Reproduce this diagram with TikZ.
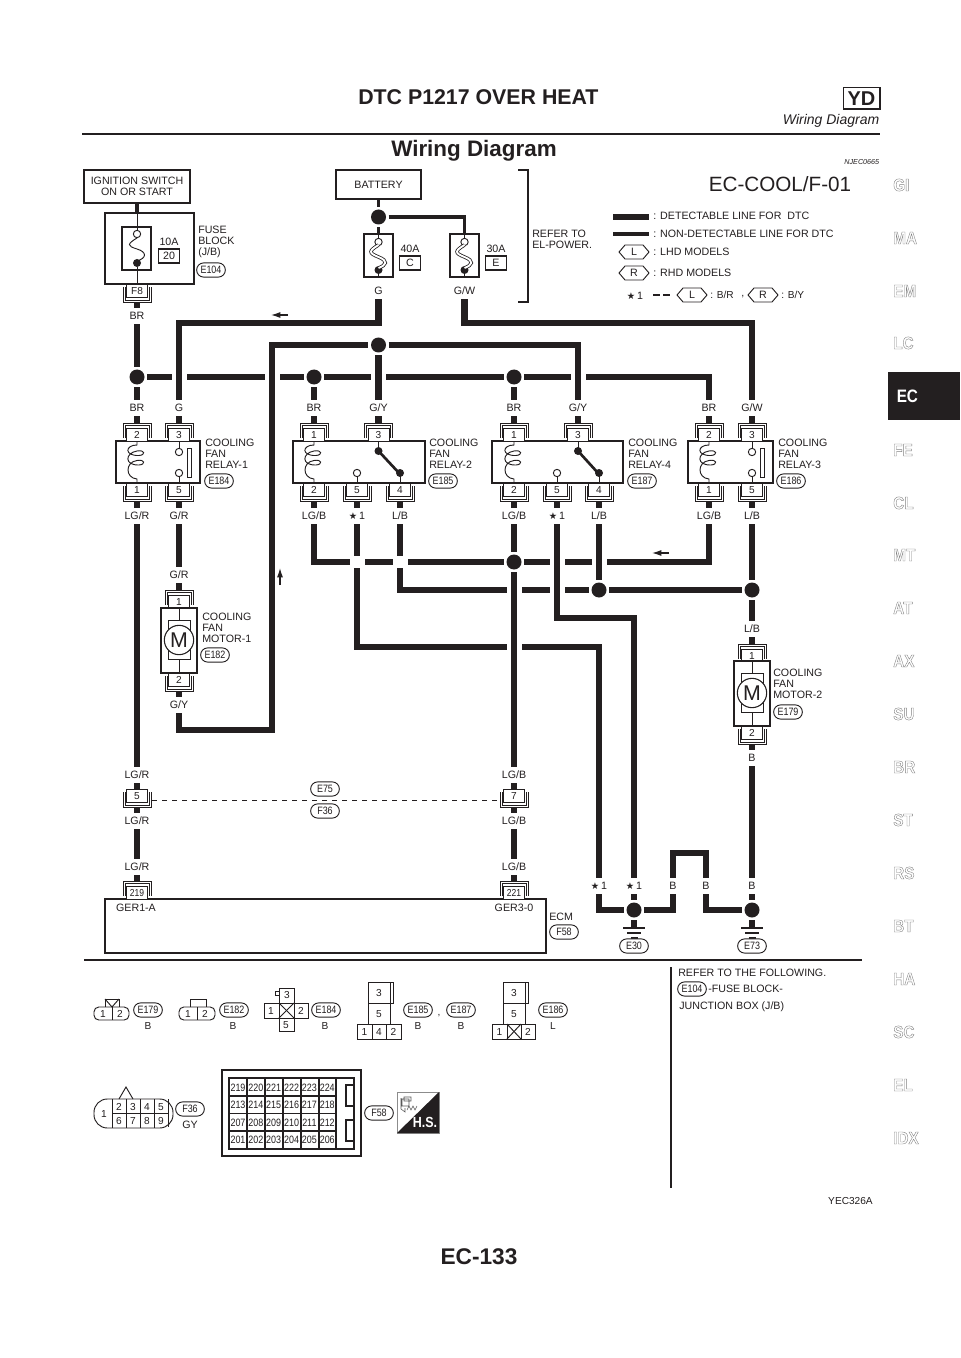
\documentclass[tikz,border=0pt]{standalone}
\usepackage{fontspec}
\setmainfont{Liberation Sans}
\newfontfamily\narrowf[FakeStretch=0.84]{Liberation Sans}
\newfontfamily\starf{DejaVu Sans}
\newfontfamily\tabf[FakeStretch=0.88,FakeBold=2.2]{Liberation Sans Bold}
\newfontfamily\boldnarrow[FakeStretch=0.85]{Liberation Sans Bold}
\usetikzlibrary{arrows.meta}
\def\px{0.75pt}
\definecolor{ink}{RGB}{35,31,32}
\newcommand{\stt}{{\starf\fontsize{7pt}{7pt}\selectfont ★}\,1}
\tikzset{
  wire/.style={line width=4.8pt,color=ink},
  midwire/.style={line width=2.7pt,color=ink},
  thn/.style={line width=0.7pt,color=ink},
  gapw/.style={line width=9pt,color=white},
  lab/.style={font=\fontsize{8pt}{8pt}\selectfont,text=ink,inner sep=0pt,text height=5.8pt,text depth=0pt,minimum height=12pt},
  txt/.style={font=\fontsize{8pt}{8.25pt}\selectfont,text=ink,inner sep=0pt,align=left,anchor=north west},
  jdot/.style={circle,fill=ink,inner sep=0pt,minimum size=11.25pt,outer sep=1.9pt},
  pinbox/.style={draw=ink,line width=0.7pt,fill=white,inner sep=0pt,minimum width=15.75pt,minimum height=9.75pt,font=\fontsize{7.6pt}{8pt}\selectfont,text=ink,text height=5.6pt,text depth=0pt},
  oval/.style={draw=ink,line width=0.7pt,rounded corners=5.2pt,inner sep=0pt,minimum width=21.5pt,minimum height=10.6pt,font=\narrowf\fontsize{8pt}{8pt}\selectfont,text=ink,text height=5.6pt,text depth=0pt,fill=white},
  sbox/.style={draw=ink,line width=0.8pt,inner sep=0pt,fill=white,text=ink},
  smallc/.style={circle,draw=ink,line width=0.7pt,fill=white,inner sep=0pt,minimum size=5.5pt},
  smalld/.style={circle,fill=ink,inner sep=0pt,minimum size=6pt},
  tabt/.style={font=\tabf\fontsize{13pt}{13pt}\selectfont,inner sep=0pt,anchor=west},
}
% connector on top of a box: #1 name #2 x #3 box edge y #4 text
\newcommand{\pinT}[4]{%
  \draw[thn] (#2-14,#3-3)--(#2-14,#3-18)--(#2+14,#3-18)--(#2+14,#3-3);
  \draw[thn] (#2-12,#3-3)--(#2-12,#3-16)--(#2+12,#3-16)--(#2+12,#3-3);
  \node[pinbox,outer ysep=3.75pt] (#1) at (#2,#3-6.5) {#4};}
\newcommand{\pinB}[4]{%
  \draw[thn] (#2-14,#3+3)--(#2-14,#3+18)--(#2+14,#3+18)--(#2+14,#3+3);
  \draw[thn] (#2-12,#3+3)--(#2-12,#3+16)--(#2+12,#3+16)--(#2+12,#3+3);
  \node[pinbox,outer ysep=3.75pt] (#1) at (#2,#3+6.5) {#4};}
\newcommand{\coil}[1]{%
  \draw[thn] (#1,441)--(#1,445) .. controls (#1-12,445) and (#1-13,456) .. (#1+2,455.5) .. controls (#1+9,455) and (#1+8,449.5) .. (#1,451) .. controls (#1-12,453) and (#1-13,465.5) .. (#1+2,465) .. controls (#1+9,464.5) and (#1+8,459) .. (#1,460.5) .. controls (#1-12,462) and (#1-12,478) .. (#1,479)--(#1,483);}
\newcommand{\contactNO}[1]{%
  \draw[thn] (#1,441)--(#1,448);\draw[thn] (#1,477)--(#1,483);
  \node[smallc] at (#1,452) {};\node[smallc] at (#1,473) {};
  \draw[thn,fill=white] (#1+8,448) rectangle (#1+12,477);}
\newcommand{\switchC}[3]{% #1 common x #2 NO x #3 contact x
  \draw[thn] (#1,441)--(#1,451);
  \draw[line width=2pt,color=ink] (#1,451)--(#3-1,473);
  \node[smalld] at (#1,451) {};\node[smalld] at (#3,473) {};
  \draw[thn] (#3,473)--(#3,483);
  \node[smallc] at (#2,473) {};\draw[thn] (#2,476.5)--(#2,483);}
\newcommand{\hexa}[4]{% name x y text
  \draw[thn] (#2-15,#3)--(#2-9,#3-7)--(#2+9,#3-7)--(#2+15,#3)--(#2+9,#3+7)--(#2-9,#3+7)--cycle;
  \node[inner sep=0pt,text=ink,font=\fontsize{8pt}{8pt}\selectfont] (#1) at (#2,#3) {#4};}
\newcommand{\motor}[3]{% x, top, name
  \draw[sbox] (#1-18,#2) rectangle (#1+18,#2+65);
  \draw[thn] (#1,#2)--(#1,#2+12);\draw[thn] (#1,#2+51)--(#1,#2+65);
  \draw[thn,fill=white] (#1-11,#2+12) rectangle (#1+11,#2+51);
  \node[circle,draw=ink,line width=0.8pt,fill=white,minimum size=22pt,inner sep=0pt,text=ink,font=\fontsize{16pt}{16pt}\selectfont] (#3) at (#1,#2+32) {M};}
\newcommand{\ground}[2]{%
  \draw[line width=1pt,color=ink] (#1-11,#2)--(#1+11,#2);
  \draw[line width=0.9pt,color=ink] (#1-7,#2+5)--(#1+7,#2+5);
  \draw[line width=0.9pt,color=ink] (#1-3.5,#2+10)--(#1+3.5,#2+10);}
\newcommand{\fusebx}[5]{% name x label-amp box-text boxx
  \node[sbox,minimum width=21.75pt,minimum height=32.25pt] (#1) at (#2,255.5) {};
  \node[smallc] (#1t) at (#2,242) {};
  \node[smalld] (#1b) at (#2,270) {};
  \draw[line width=0.6pt,color=ink,double=white,double distance=1.4pt] (#2,245) .. controls (#2-10,251) and (#2-10,253) .. (#2,257) .. controls (#2+10,261) and (#2+8,265) .. (#2,268);
  \node[inner sep=0pt,text=ink,font=\fontsize{8pt}{8pt}\selectfont] (#1a) at (#5,249) {#3};
  \node[sbox,minimum width=16pt,minimum height=10.5pt,font=\fontsize{8pt}{8pt}\selectfont] (#1v) at (#5,263) {#4};}
\begin{document}
\begin{tikzpicture}[x=0.75pt,y=-0.75pt]
\useasboundingbox (0,0) rectangle (960,1358);
\fill[white] (0,0) rectangle (960,1358);
% ---------- header
\node[inner sep=0pt,font=\bfseries\fontsize{16pt}{16pt}\selectfont,text=ink,anchor=west] (hd) at (358,97) {DTC P1217 OVER HEAT};
\node[draw=ink,line width=1pt,inner sep=0pt,minimum width=27.5pt,minimum height=16pt,font=\bfseries\fontsize{15pt}{15pt}\selectfont,text=ink] (yd) at (861.5,98.5) {YD};
\node[inner sep=0pt,font=\itshape\fontsize{10.5pt}{10.5pt}\selectfont,text=ink,anchor=east] (wd) at (879.5,121) {Wiring Diagram};
\coordinate (ruleL) at (82,134);\coordinate (ruleR) at (879.5,134);
\draw[line width=2.1pt,color=ink] (ruleL)--(ruleR);
\node[inner sep=0pt,font=\bfseries\fontsize{16.8pt}{16.8pt}\selectfont,text=ink] (ttl) at (474,151) {Wiring Diagram};
\node[inner sep=0pt,font=\itshape\fontsize{5.4pt}{6pt}\selectfont,text=ink,anchor=east] (njec) at (879.5,162) {NJEC0665};
% ---------- right tabs
\fill[ink] (888,372) rectangle (960,420);
\foreach \t/\y in {GI/185,MA/238,EM/291,LC/343,FE/450,CL/503,MT/555,AT/608,AX/661,SU/714,BR/767,ST/820,RS/873,BT/926,HA/979,SC/1032,EL/1085,IDX/1138}{
  \node[tabt] (tab\t) at (893,\y) {\special{pdf:code 1 g 0.5 G}\t\special{pdf:code 0 g 0 G}};}
\node[inner sep=0pt,font=\boldnarrow\fontsize{13.5pt}{13.5pt}\selectfont,text=white,anchor=west] (tabEC) at (896.5,396) {EC};
% ---------- title, legend
\node[inner sep=0pt,font=\fontsize{15.5pt}{16pt}\selectfont,text=ink] (code) at (780,184) {EC-COOL/F-01};
\coordinate (lg1) at (613,217);\coordinate (lg2) at (649,217);
\coordinate (lg3) at (613,234);\coordinate (lg4) at (649,234);
\draw[wire] (lg1)--(lg2);\draw[midwire] (lg3)--(lg4);
\node[txt,anchor=west] (lt1) at (653,216) {: DETECTABLE LINE FOR\ \ DTC};
\node[txt,anchor=west] (lt2) at (653,234) {: NON-DETECTABLE LINE FOR DTC};
\hexa{hexL}{634}{252}{L}
\node[txt,anchor=west] (lt3) at (653,252) {: LHD MODELS};
\hexa{hexR}{634}{273}{R}
\node[txt,anchor=west] (lt4) at (653,273) {: RHD MODELS};
\node[lab] (lstar) at (635,296) {\stt};
\coordinate (ld1) at (653,295);\coordinate (ld2) at (670,295);
\draw[line width=1pt,color=ink,dash pattern=on 5.25pt off 2.25pt] (ld1)--(ld2);
\hexa{hexL2}{692}{295}{L}
\node[txt,anchor=west,font=\fontsize{7.6pt}{8pt}\selectfont] (lt5) at (710,295) {: B/R};
\node[txt,anchor=west] (lcm) at (741,297) {,};
\hexa{hexR2}{763}{295}{R}
\node[txt,anchor=west,font=\fontsize{7.6pt}{8pt}\selectfont] (lt6) at (781,295) {: B/Y};
\coordinate (br1) at (518,170);\coordinate (br2) at (528,170);\coordinate (br3) at (528,302);\coordinate (br4) at (518,302);
\draw[line width=0.8pt,color=ink] (br1)--(br2)--(br3)--(br4);
\node[txt] (refel) at (532,230) {REFER TO\\EL-POWER.};
% ---------- ignition / fuse block
\node[sbox,minimum width=79.5pt,minimum height=24.75pt,font=\fontsize{8pt}{8.25pt}\selectfont,align=center] (ign) at (137,186.5) {IGNITION SWITCH\\ON OR START};
\node[sbox,minimum width=66.75pt,minimum height=53.25pt] (fb) at (149.5,248.5) {};
\node[sbox,minimum width=21.75pt,minimum height=32.25pt] (f20) at (136.5,248.5) {};
\node[smallc] (f20t) at (137,234) {};
\node[smalld] (f20b) at (137,263) {};
\coordinate (fbtop) at (137,213);\coordinate (fbbot) at (137,284);
\draw[midwire] (ign.south)--(fbtop);
\draw[thn] (fbtop)--(f20t);
\draw[thn] (137,238) .. controls (127,244) and (127,246) .. (137,249) .. controls (147,252) and (147,258) .. (137,261);
\draw[thn] (f20b)--(fbbot);
\node[lab] (a10) at (169,242) {10A};
\node[sbox,minimum width=16pt,minimum height=10.5pt,font=\fontsize{8pt}{8pt}\selectfont] (v20) at (169,256) {20};
\node[txt] (fbt) at (198,226) {FUSE\\BLOCK\\(J/B)};
\node[oval] (e104) at (211,270) {E104};
\pinB{pF8}{137}{284}{F8}
\node[lab] (lBRa) at (137,316) {BR};
% ---------- battery
\node[sbox,minimum width=63.75pt,minimum height=21.75pt,font=\fontsize{8pt}{8pt}\selectfont] (bat) at (378.5,184.5) {BATTERY};
\node[jdot] (jBat) at (378.5,217) {};
\fusebx{fC}{378.5}{40A}{C}{410}
\fusebx{fE}{464.5}{30A}{E}{496}
\coordinate (cbt) at (464.5,217);
\draw[midwire] (bat.south)--(jBat);
\draw[midwire] (jBat)--(fC.north);
\draw[midwire] (jBat)--(cbt)--(fE.north);
\draw[thn] (fC.north)--(fCt);\draw[thn] (fCb)--(fC.south);
\draw[thn] (fE.north)--(fEt);\draw[thn] (fEb)--(fE.south);
\node[lab] (lG) at (378.5,291) {G};
\node[lab] (lGW) at (464.5,291) {G/W};
% ---------- relays
\node[sbox,minimum width=63pt,minimum height=31.5pt] (r1) at (158,462) {};
\node[sbox,minimum width=99pt,minimum height=31.5pt] (r2) at (359,462) {};
\node[sbox,minimum width=98.25pt,minimum height=31.5pt] (r4) at (557.5,462) {};
\node[sbox,minimum width=63.75pt,minimum height=31.5pt] (r3) at (730.5,462) {};
\coil{137}\contactNO{179}
\coil{314}\switchC{378.5}{357}{400}
\coil{514}\switchC{578}{557}{599}
\coil{709}\contactNO{752}
\foreach \n/\x/\t in {a/137/2,b/179/3,c/314/1,d/378.5/3,e/514/1,f/578/3,g/709/2,h/752/3}{\pinT{t\n}{\x}{441}{\t}}
\foreach \n/\x/\t in {a/137/1,b/179/5,c/314/2,d/357/5,e/400/4,f/514/2,g/557/5,h/599/4,i/709/1,j/752/5}{\pinB{b\n}{\x}{483}{\t}}
\foreach \n/\x/\t in {a/137/BR,b/179/G,c/314/BR,d/378.5/{G/Y},e/514/BR,f/578/{G/Y},g/709/BR,h/752/{G/W}}{\node[lab] (u\n) at (\x,408) {\t};}
\foreach \n/\x/\t in {a/137/{LG/R},b/179/{G/R},c/314/{LG/B},e/400/{L/B},f/514/{LG/B},h/599/{L/B},i/709/{LG/B},j/752/{L/B}}{\node[lab] (d\n) at (\x,516) {\t};}
\node[lab] (dd) at (357,516) {\stt};
\node[lab] (dg) at (557,516) {\stt};
\foreach \n in {a,b,c,d,e,f,g,h}{\draw[wire] (u\n.south)--(t\n.north);}
\foreach \n in {a,b,c,d,e,f,g,h,i,j}{\draw[wire] (b\n.south)--(d\n.north);}
\node[txt] (t1) at (205,439) {COOLING\\FAN\\RELAY-1};
\node[oval] (e184) at (219,481) {E184};
\node[txt] (t2) at (429,439) {COOLING\\FAN\\RELAY-2};
\node[oval] (e185) at (443,481) {E185};
\node[txt] (t4) at (628,439) {COOLING\\FAN\\RELAY-4};
\node[oval] (e187) at (642,481) {E187};
\node[txt] (t3) at (778,439) {COOLING\\FAN\\RELAY-3};
\node[oval] (e186) at (791,481) {E186};
% ---------- motors
\node[lab] (mGR) at (179,575) {G/R};
\pinT{pm1}{179}{608}{1}
\motor{179}{608}{m1}
\pinB{pm2}{179}{673}{2}
\node[lab] (mGY) at (179,705) {G/Y};
\node[txt] (tm1) at (202,613) {COOLING\\FAN\\MOTOR-1};
\node[oval] (e182) at (215,655) {E182};
\node[lab] (mLB) at (752,629) {L/B};
\pinT{pm3}{752}{662}{1}
\motor{752}{661}{m2}
\pinB{pm4}{752}{726}{2}
\node[lab] (mB) at (752,758) {B};
\node[txt] (tm2) at (773,669) {COOLING\\FAN\\MOTOR-2};
\node[oval] (e179) at (788,712) {E179};
\draw[wire] (mGR.south)--(pm1.north);
\draw[wire] (pm2.south)--(mGY.north);
\draw[wire] (mLB.south)--(pm3.north);
\draw[wire] (pm4.south)--(mB.north);
% ---------- E75/F36 connector
\node[lab] (c1a) at (137,775) {LG/R};
\node[lab] (c1b) at (137,821) {LG/R};
\node[lab] (c1c) at (137,867) {LG/R};
\node[lab] (c2a) at (514,775) {LG/B};
\node[lab] (c2b) at (514,821) {LG/B};
\node[lab] (c2c) at (514,867) {LG/B};
\foreach \x/\n/\t in {137/p5/5,514/p7/7}{
  \draw[thn] (\x-14,792)--(\x-14,807)--(\x+14,807)--(\x+14,792);
  \draw[thn] (\x-12,792)--(\x-12,805)--(\x+12,805)--(\x+12,792);
  \node[pinbox] (\n) at (\x,795.5) {\t};}
\draw[wire] (c1a.south)--(p5.north);
\draw[wire] (c2a.south)--(p7.north);
\draw[wire,shorten >=3.75pt] (c1b.north)--(p5.south);
\draw[wire,shorten >=3.75pt] (c2b.north)--(p7.south);
\draw[wire] (c1b.south)--(c1c.north);
\draw[wire] (c2b.south)--(c2c.north);
\coordinate (dsh1) at (152,800);\coordinate (dsh2) at (499,800);
\draw[line width=0.65pt,color=ink,dash pattern=on 3.9pt off 3.6pt] (dsh1)--(dsh2);
\node[oval] (e75) at (325,789) {E75};
\node[oval] (f36a) at (325,811) {F36};
% ---------- ECM
\node[sbox,minimum width=330.75pt,minimum height=40.5pt] (ecm) at (325.5,926) {};
\pinT{p219}{137}{899}{\narrowf 219}
\pinT{p221}{514}{899}{\narrowf 221}
\draw[wire] (c1c.south)--(p219.north);
\draw[wire] (c2c.south)--(p221.north);
\node[lab] (ger1) at (136,908) {GER1-A};
\node[lab] (ger3) at (514,908) {GER3-0};
\node[lab,anchor=west] (ecmt) at (549,917) {ECM};
\node[oval] (f58a) at (564,932) {F58};
% ---------- bottom labels and junctions
\node[lab] (s1) at (599,886) {\stt};
\node[lab] (s2) at (634,886) {\stt};
\node[lab] (b1) at (673,886) {B};
\node[lab] (b2) at (706,886) {B};
\node[lab] (b3) at (752,886) {B};
\node[jdot] (jE30) at (634,910) {};
\node[jdot] (jE73) at (752,910) {};
\coordinate (gE30) at (634,928);\coordinate (gE73) at (752,928);
\draw[wire] (jE30)--(gE30);\draw[wire] (jE73)--(gE73);
\ground{634}{928}\ground{752}{928}
\node[oval] (e30) at (634,946) {E30};
\node[oval] (e73) at (752,946) {E73};
% ---------- junction dots
\node[jdot] (jA) at (137,377) {};
\node[jdot] (jB) at (314,377) {};
\node[jdot] (jC) at (514,377) {};
\node[jdot] (jGY) at (378.5,345) {};
\node[jdot] (jLB) at (514,562) {};
\node[jdot] (jP) at (599,590) {};
\node[jdot] (jQ) at (752,590) {};
% ---------- horizontal wires
\coordinate (cBRr) at (709,377);
\coordinate (cGYl) at (272,345);\coordinate (cGYr) at (578,345);
\draw[wire] (jA)--(jB);\draw[wire] (jB)--(jC);\draw[wire] (jC)--(cBRr)--(ug.north);
\coordinate (cL1) at (314,562);\coordinate (cL2) at (709,562);
\draw[wire] (dc.south)--(cL1)--(jLB);
\draw[wire] (jLB)--(cL2)--(di.south);
\coordinate (cM1) at (400,590);
\draw[wire] (de.south)--(cM1)--(jP);
\draw[wire] (jP)--(jQ);
\coordinate (cN1) at (357,647);\coordinate (cN2) at (599,647);
\draw[wire] (dd.south)--(cN1)--(cN2)--(s1.north);
% crossings: each lower wire is broken where another one passes over it
\foreach \x/\y in {179/377,272/377,378.5/377,578/377,357/562,400/562,557/562,599/562,514/590,557/590,514/647}{
  \draw[gapw] (\x-7.5,\y)--(\x+7.5,\y);}
% ---------- remaining wires
\draw[wire] (lBRa.south)--(jA);
\draw[wire] (pF8.south)--(lBRa.north);
\draw[wire] (jA)--(ua.north);\draw[wire] (jB)--(uc.north);\draw[wire] (jC)--(ue.north);
\coordinate (cG1) at (378.5,323);\coordinate (cG2) at (179,323);
\draw[wire] (lG.south)--(cG1)--(cG2)--(ub.north);
\coordinate (cW1) at (464.5,323);\coordinate (cW2) at (752,323);
\draw[wire] (lGW.south)--(cW1)--(cW2)--(uh.north);
\coordinate (cY1) at (272,730);\coordinate (cY2) at (179,730);
\draw[wire] (mGY.south)--(cY2)--(cY1)--(cGYl)--(jGY);
\draw[wire] (jGY)--(cGYr)--(uf.north);
\draw[wire] (jGY)--(ud.north);
\draw[wire] (da.south)--(c1a.north);
\draw[wire] (db.south)--(mGR.north);
\draw[wire] (df.south)--(jLB);
\draw[wire] (jLB)--(c2a.north);
\draw[wire] (dh.south)--(jP);
\draw[wire] (dj.south)--(jQ);
\draw[wire] (jQ)--(mLB.north);
\coordinate (cO1) at (557,618);\coordinate (cO2) at (634,618);
\draw[wire] (dg.south)--(cO1)--(cO2)--(s2.north);
\draw[wire] (s2.south)--(jE30);
\coordinate (cS1) at (599,910);
\draw[wire] (s1.south)--(cS1)--(jE30);
\coordinate (cB1) at (673,910);\coordinate (cB2) at (706,910);
\coordinate (cB3) at (673,853);\coordinate (cB4) at (706,853);
\draw[wire] (jE30)--(cB1)--(b1.south);
\draw[wire] (b1.north)--(cB3)--(cB4)--(b2.north);
\draw[wire] (b2.south)--(cB2)--(jE73);
\draw[wire] (mB.south)--(b3.north);
\draw[wire] (b3.south)--(jE73);
% flow arrows
\coordinate (ar1a) at (288,315);\coordinate (ar1b) at (271,315);
\coordinate (ar2a) at (280,585);\coordinate (ar2b) at (280,568);
\coordinate (ar3a) at (669,553);\coordinate (ar3b) at (652,553);
\foreach \a/\b in {ar1a/ar1b,ar2a/ar2b,ar3a/ar3b}{
  \draw[line width=0.9pt,color=ink,-{Latex[length=7pt,width=4.5pt]}] (\a)--(\b);}
% ---------- separators
\coordinate (sepL) at (84,960);\coordinate (sepR) at (862,960);
\draw[line width=0.9pt,color=ink] (sepL)--(sepR);
\coordinate (sepT) at (671,967);\coordinate (sepB) at (671,1188);
\draw[line width=0.9pt,color=ink] (sepT)--(sepB);
\node[txt,anchor=west] (rf1) at (678,973) {REFER TO THE FOLLOWING.};
\node[oval] (e104b) at (692,989) {E104};
\node[txt,anchor=west] (rf2) at (708,989) {-FUSE BLOCK-};
\node[txt,anchor=west] (rf3) at (679,1007) {JUNCTION BOX (J/B)};
% ---------- connector views
\tikzset{cv/.style={inner sep=0pt,text=ink,font=\fontsize{7.6pt}{8pt}\selectfont,text height=5.6pt,text depth=0pt}}
% E179
\draw[thn,rounded corners=3.6pt] (94,1007) rectangle (129,1020);
\draw[thn] (112,1007)--(112,1020);
\draw[thn] (105,1007)--(105,999)--(119,999)--(119,1007);
\draw[thn] (105,999)--(112,1007)--(119,999);
\node[cv] (n179a) at (103,1014) {1};\node[cv] (n179b) at (120,1014) {2};
\node[oval] (o179) at (148,1010) {E179};\node[cv] (c179) at (148,1026) {B};
% E182
\draw[thn,rounded corners=3.6pt] (179,1007) rectangle (215,1020);
\draw[thn] (197,1007)--(197,1020);
\draw[thn] (190,1007)--(190,999)--(206,999)--(206,1007);
\node[cv] (n182a) at (188,1014) {1};\node[cv] (n182b) at (205,1014) {2};
\node[oval] (o182) at (234,1010) {E182};\node[cv] (c182) at (233,1026) {B};
% E184
\draw[thn] (279,1003) rectangle (294,988);
\draw[thn] (264,1003) rectangle (308,1018);
\draw[thn] (279,1018) rectangle (294,1031);
\draw[thn] (279,1003)--(279,1018);\draw[thn] (294,1003)--(294,1018);
\draw[thn] (279,1003)--(294,1018);\draw[thn] (279,1018)--(294,1003);
\draw[thn,fill=white] (275,991.5) rectangle (279,995.5);
\node[cv] (n184a) at (287,995) {3};\node[cv] (n184b) at (271,1010.5) {1};
\node[cv] (n184c) at (301,1010.5) {2};\node[cv] (n184d) at (286,1025) {5};
\node[oval] (o184) at (326,1010) {E184};\node[cv] (c184) at (325,1026) {B};
% E185 / E187
\draw[thn] (368,982) rectangle (390,1003);\draw[thn] (390,982) rectangle (393,1003);
\draw[thn] (368,1003) rectangle (390,1024);
\draw[thn] (357,1024) rectangle (401,1039);
\draw[thn] (372,1024)--(372,1039);\draw[thn] (386,1024)--(386,1039);
\node[cv] (n185a) at (379,993) {3};\node[cv] (n185b) at (379,1014) {5};
\node[cv] (n185c) at (364.5,1031.5) {1};\node[cv] (n185d) at (379,1031.5) {4};\node[cv] (n185e) at (393.5,1031.5) {2};
\node[oval] (o185) at (418,1010) {E185};\node[cv] (c185) at (418,1026) {B};
\node[cv] (comma) at (439,1012) {,};
\node[oval] (o187) at (461,1010) {E187};\node[cv] (c187) at (461,1026) {B};
% E186
\draw[thn] (503,982) rectangle (525,1003);\draw[thn] (525,982) rectangle (528,1003);
\draw[thn] (503,1003) rectangle (525,1024);
\draw[thn] (492,1024) rectangle (535,1039);
\draw[thn] (507,1024)--(507,1039);\draw[thn] (521,1024)--(521,1039);
\draw[thn] (507,1024)--(521,1039);\draw[thn] (507,1039)--(521,1024);
\node[cv] (n186a) at (514,993) {3};\node[cv] (n186b) at (514,1014) {5};
\node[cv] (n186c) at (499.5,1031.5) {1};\node[cv] (n186e) at (528,1031.5) {2};
\node[oval] (o186) at (553,1010) {E186};\node[cv] (c186) at (553,1026) {L};
% F36
\draw[thn,rounded corners=10pt] (94,1099) rectangle (173,1128);
\draw[thn] (112,1099)--(112,1128);
\foreach \x in {126,140,154}{\draw[thn] (\x,1099)--(\x,1128);}
\draw[thn] (168,1099)--(168,1127);
\draw[thn] (112,1113.5)--(168,1113.5);
\draw[thn] (119,1099)--(126,1087)--(133,1099);
\node[cv] (n36) at (104,1113.5) {1};
\foreach \t/\x/\y in {2/119/1107,3/133/1107,4/147/1107,5/161/1107,6/119/1121,7/133/1121,8/147/1121,9/161/1121}{\node[cv] (f36n\t) at (\x,\y) {\t};}
\node[oval] (o36) at (190,1109) {F36};\node[cv,font=\fontsize{8pt}{8pt}\selectfont] (c36) at (190,1125) {GY};
% F58
\draw[line width=0.9pt,color=ink] (222,1070) rectangle (361,1156);
\draw[line width=0.9pt,color=ink] (229,1078) rectangle (354,1149);
\foreach \x in {247,265,283,301,319,336}{\draw[line width=0.9pt,color=ink] (\x,1078)--(\x,1149);}
\foreach \y in {1096,1113.5,1131}{\draw[line width=0.9pt,color=ink] (229,\y)--(336,\y);}
\foreach \t[count=\i from 0] in {219,220,221,222,223,224}{\node[cv,font=\narrowf\fontsize{8pt}{8pt}\selectfont] (g\t) at (238+17.85*\i,1087.5) {\t};}
\foreach \t[count=\i from 0] in {213,214,215,216,217,218}{\node[cv,font=\narrowf\fontsize{8pt}{8pt}\selectfont] (g\t) at (238+17.85*\i,1105) {\t};}
\foreach \t[count=\i from 0] in {207,208,209,210,211,212}{\node[cv,font=\narrowf\fontsize{8pt}{8pt}\selectfont] (g\t) at (238+17.85*\i,1122.5) {\t};}
\foreach \t[count=\i from 0] in {201,202,203,204,205,206}{\node[cv,font=\narrowf\fontsize{8pt}{8pt}\selectfont] (g\t) at (238+17.85*\i,1140) {\t};}
\draw[line width=0.9pt,color=ink] (354,1085)--(346,1085)--(346,1106)--(354,1106);
\draw[line width=0.9pt,color=ink] (354,1120)--(346,1120)--(346,1141)--(354,1141);
\node[oval] (o58) at (379,1113) {F58};
% H.S. icon
\draw[line width=0.5pt,color=black!45] (397,1092) rectangle (439,1133);
\fill[ink] (439,1092)--(439,1133)--(397,1133)--cycle;
\node[inner sep=0pt,text=white,font=\boldnarrow\fontsize{11pt}{11pt}\selectfont] (hs) at (425,1122) {H.S.};
\draw[line width=0.4pt,color=black!65] (402,1099) rectangle (409,1106) (404,1097) rectangle (411,1101) (401,1098)--(401,1109)--(405,1112)--(405,1108) (407,1110)--(409,1106)--(411,1110)--(413,1106)--(415,1110)--(417,1106);
% ---------- footer
\node[inner sep=0pt,font=\fontsize{7.6pt}{8pt}\selectfont,text=ink,anchor=east] (yec) at (873,1201) {YEC326A};
\node[inner sep=0pt,font=\bfseries\fontsize{17pt}{17pt}\selectfont,text=ink] (pg) at (479,1257) {EC-133};
\end{tikzpicture}
\end{document}
